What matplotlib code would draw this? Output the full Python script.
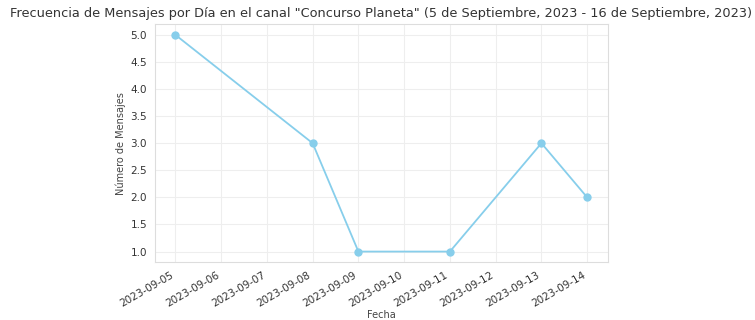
import numpy as np
import pandas as pd
import matplotlib
matplotlib.use("Agg")
import matplotlib.pyplot as plt
import matplotlib.dates as mdates
import seaborn as sns

# mensajes por dia
fechas = ["2023-09-05", "2023-09-08", "2023-09-09", "2023-09-11", "2023-09-13", "2023-09-14"]
mensajes = [5, 3, 1, 1, 3, 2]
ticks = pd.date_range("2023-09-05", "2023-09-14", freq="D")

sns.set_style("whitegrid")
plt.rcParams['font.family'] = ['DejaVu Sans']

fig = plt.figure(figsize=(7.55, 3.2), dpi=100)
ax = fig.add_axes([0.205, 0.18, 0.6, 0.745])

ax.plot(pd.to_datetime(fechas), mensajes, marker='o', color='skyblue', markersize=5, linewidth=1.3)

ax.set_title('Frecuencia de Mensajes por Día en el canal "Concurso Planeta" (5 de Septiembre, 2023 - 16 de Septiembre, 2023)',
             fontsize=9.3, color='#333333', pad=5)
ax.set_xlabel('Fecha', fontsize=7, color='#444444', labelpad=1)
ax.set_ylabel('Número de Mensajes', fontsize=7, color='#444444', labelpad=3)

ax.set_xticks(ticks)
ax.xaxis.set_major_formatter(mdates.DateFormatter('%Y-%m-%d'))
plt.setp(ax.get_xticklabels(), rotation=30, ha='right')
ax.set_yticks(np.arange(1.0, 5.01, 0.5))
ax.yaxis.set_major_formatter(matplotlib.ticker.FormatStrFormatter('%.1f'))
ax.tick_params(labelsize=7.5, colors='#333333', pad=2)

for s in ax.spines.values():
    s.set_color('#dddddd')
ax.grid(color='#eeeeee')

fig.savefig('out.png', dpi=100)
